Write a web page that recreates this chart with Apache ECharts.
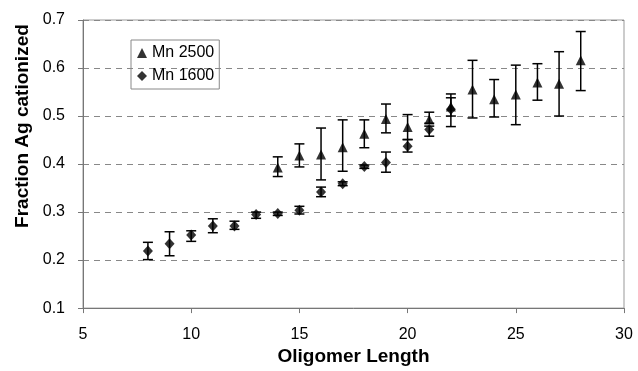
<!DOCTYPE html>
<html>
<head>
<meta charset="utf-8">
<script src="https://cdn.jsdelivr.net/npm/echarts@6/dist/echarts.min.js"></script>
<style>html,body{margin:0;padding:0;background:#fff}#c{width:638px;height:371px}</style>
</head>
<body>
<div id="c"></div>
<script>
// Mn 2500 (triangles)
var len2500 = [14, 15, 16, 17, 18, 19, 20, 21, 22, 23, 24, 25, 26, 27, 28];
var mean2500 = [0.393, 0.418, 0.420, 0.435, 0.463, 0.494, 0.477, 0.493, 0.520, 0.555, 0.535, 0.545, 0.570, 0.567, 0.616];
var low2500 = [0.374, 0.394, 0.367, 0.385, 0.434, 0.465, 0.451, 0.485, 0.478, 0.496, 0.498, 0.482, 0.533, 0.500, 0.553];
var high2500 = [0.415, 0.442, 0.475, 0.492, 0.492, 0.525, 0.503, 0.508, 0.546, 0.616, 0.576, 0.606, 0.609, 0.634, 0.676];
// Mn 1600 (diamonds)
var len1600 = [8, 9, 10, 11, 12, 13, 14, 15, 16, 17, 18, 19, 20, 21, 22];
var mean1600 = [0.219, 0.234, 0.252, 0.271, 0.271, 0.295, 0.297, 0.304, 0.342, 0.359, 0.395, 0.403, 0.437, 0.472, 0.514];
var low1600 = [0.201, 0.209, 0.239, 0.257, 0.264, 0.287, 0.293, 0.296, 0.332, 0.355, 0.391, 0.383, 0.425, 0.458, 0.500];
var high1600 = [0.237, 0.259, 0.261, 0.286, 0.281, 0.300, 0.300, 0.312, 0.352, 0.363, 0.398, 0.425, 0.451, 0.479, 0.538];
var seriesNames = ['Mn 2500', 'Mn 1600'];
var xTitle = 'Oligomer Length';
var yTitle = 'Fraction Ag cationized';

function pts(xs, ys) { return xs.map(function (x, i) { return [x, ys[i]]; }); }
function errs(xs, lo, hi) { return xs.map(function (x, i) { return [x, lo[i], hi[i]]; }); }

function errRender(params, api) {
  var x = api.value(0);
  var a = api.coord([x, api.value(1)]);
  var b = api.coord([x, api.value(2)]);
  var w = 5;
  var st = { stroke: '#000', lineWidth: 1.5 };
  return {
    type: 'group',
    children: [
      { type: 'line', shape: { x1: a[0], y1: a[1], x2: b[0], y2: b[1] }, style: st },
      { type: 'line', shape: { x1: a[0] - w, y1: a[1], x2: a[0] + w, y2: a[1] }, style: st },
      { type: 'line', shape: { x1: b[0] - w, y1: b[1], x2: b[0] + w, y2: b[1] }, style: st }
    ]
  };
}

var chart = echarts.init(document.getElementById('c'), null, { renderer: 'canvas' });
var font = 'Liberation Sans, Arial, sans-serif';
chart.setOption({
  animation: false,
  textStyle: { fontFamily: font },
  grid: { left: 83, right: 14, top: 20, bottom: 62.5, show: true, borderColor: '#999', borderWidth: 1 },
  legend: {
    left: 131, top: 40, orient: 'vertical',
    padding: [5, 5, 5, 6], itemGap: 7, itemWidth: 10, itemHeight: 10,
    borderColor: '#888', borderWidth: 1,
    textStyle: { fontSize: 16, color: '#000', fontFamily: font },
    data: [{ name: seriesNames[0], icon: 'triangle' }, { name: seriesNames[1], icon: 'diamond' }]
  },
  xAxis: {
    type: 'value', min: 5, max: 30, interval: 5,
    name: xTitle, nameLocation: 'middle', nameGap: 33,
    nameTextStyle: { fontSize: 19, fontWeight: 'bold', color: '#000', fontFamily: font },
    axisLine: { lineStyle: { color: '#777', width: 1 } },
    axisTick: { show: true, length: 5, lineStyle: { color: '#777' } },
    axisLabel: { fontSize: 16, color: '#000', margin: 18, fontFamily: font },
    splitLine: { show: false }
  },
  yAxis: {
    type: 'value', min: 0.1, max: 0.7, interval: 0.1,
    name: yTitle, nameLocation: 'middle', nameGap: 43, nameRotate: 90,
    nameTextStyle: { fontSize: 19, fontWeight: 'bold', color: '#000', fontFamily: font, padding: [0, 0, 0, 76] },
    axisLine: { show: true, lineStyle: { color: '#777', width: 1 } },
    axisTick: { show: true, length: 5, lineStyle: { color: '#777' } },
    axisLabel: { fontSize: 16, color: '#000', margin: 18, fontFamily: font, formatter: function (v) { return v.toFixed(1); } },
    splitLine: { show: true, lineStyle: { color: '#888', type: [6, 5], width: 1 } }
  },
  series: [
    { type: 'custom', renderItem: errRender, data: errs(len2500, low2500, high2500), encode: { x: 0, y: [1, 2] }, z: 2, silent: true },
    { type: 'custom', renderItem: errRender, data: errs(len1600, low1600, high1600), encode: { x: 0, y: [1, 2] }, z: 2, silent: true },
    { name: seriesNames[0], type: 'scatter', symbol: 'triangle', symbolSize: [10, 10], itemStyle: { color: '#000' }, data: pts(len2500, mean2500), z: 3 },
    { name: seriesNames[1], type: 'scatter', symbol: 'diamond', symbolSize: [10, 11], itemStyle: { color: '#000' }, data: pts(len1600, mean1600), z: 3 }
  ]
});
</script>
</body>
</html>
